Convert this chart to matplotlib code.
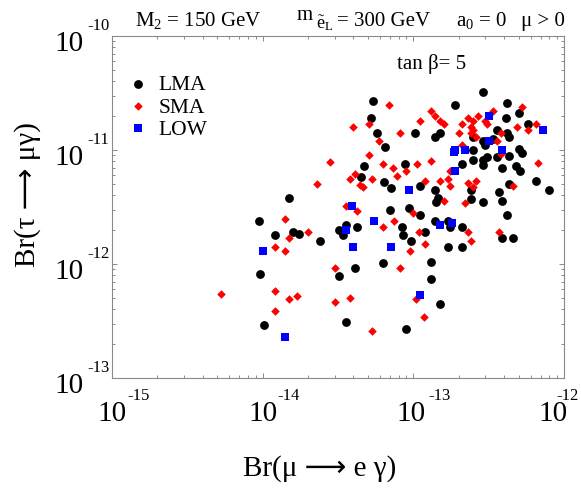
import matplotlib
matplotlib.use("Agg")
import matplotlib.pyplot as plt

plt.rcParams['font.family'] = ['Liberation Serif', 'DejaVu Sans']
plt.rcParams['mathtext.fontset'] = 'custom'
plt.rcParams['mathtext.rm'] = 'Liberation Serif'
plt.rcParams['mathtext.it'] = 'Liberation Serif:italic'

# Br(mu -> e gamma) / Br(tau -> mu gamma)
lma_x = [1.5e-14, 9.5e-15, 1.2e-14, 1.6e-14, 1.75e-14, 2.4e-14, 9.6e-15, 1.02e-14,
         3.6e-14, 3.2e-14, 3.4e-14, 3.2e-14, 3.6e-14, 5.4e-14, 5.2e-14, 5.7e-14,
         1.03e-13, 1.4e-13, 1.5e-13, 6.5e-14, 8.8e-14, 4.7e-14, 4.5e-14, 6.4e-14,
         1.1e-13, 7.1e-14, 1.4e-13, 1.45e-13, 1.42e-13, 2.9e-13, 1.9e-13, 4.2e-13,
         4.1e-13, 5.0e-13, 5.8e-13, 3.6e-13, 4.2e-13, 4.3e-13, 3.4e-13, 2.9e-13,
         2.5e-13, 2.5e-13, 3.0e-13, 5.0e-13, 5.3e-13, 4.3e-13, 3.6e-13, 3.1e-13,
         2.9e-13, 2.5e-13, 2.9e-13, 2.1e-13, 3.9e-13, 4.8e-13, 5.1e-13, 6.5e-13,
         7.9e-13, 2.4e-13, 4.3e-13, 3.7e-13, 3.9e-13, 2.9e-13, 2.4e-13, 7.0e-14,
         9.4e-14, 1.1e-13, 1.4e-13, 1.7e-13, 4.2e-14, 8.4e-14, 8.5e-14, 1.2e-13,
         9.7e-14, 1.7e-13, 6.3e-14, 1.3e-13, 4.1e-14, 1.3e-13, 1.5e-13, 9.0e-14,
         1.75e-13, 2.1e-13, 2.1e-13, 4.2e-13, 3.9e-13, 4.6e-13]
lma_y = [3.8e-12, 2.4e-12, 1.8e-12, 1.9e-12, 1.85e-12, 1.6e-12, 8.1e-13, 2.9e-13,
         2.2e-12, 2.0e-12, 1.8e-12, 7.9e-13, 3.1e-13, 2.7e-11, 1.9e-11, 1.4e-11,
         1.4e-11, 1.3e-11, 1.4e-11, 1.06e-11, 7.6e-12, 7.2e-12, 5.8e-12, 5.2e-12,
         4.8e-12, 4.6e-12, 4.5e-12, 3.8e-12, 3.5e-12, 3.2e-11, 2.5e-11, 2.6e-11,
         1.9e-11, 2.1e-11, 1.7e-11, 1.5e-11, 1.4e-11, 1.3e-11, 1.26e-11, 1.2e-11,
         1.3e-11, 1.0e-11, 1.1e-11, 1.02e-11, 9.4e-12, 8.9e-12, 8.6e-12, 8.6e-12,
         8.1e-12, 8.1e-12, 7.4e-12, 7.5e-12, 7.0e-12, 7.3e-12, 6.5e-12, 5.4e-12,
         4.5e-12, 4.5e-12, 5.0e-12, 4.3e-12, 3.6e-12, 3.5e-12, 3.7e-12, 3.0e-12,
         3.1e-12, 2.7e-12, 2.4e-12, 2.4e-12, 2.1e-12, 2.1e-12, 1.8e-12, 1.9e-12,
         1.6e-12, 1.4e-12, 1.02e-12, 1.05e-12, 9.2e-13, 7.4e-13, 4.5e-13, 2.7e-13,
         2.1e-12, 2.1e-12, 1.4e-12, 2.7e-12, 1.7e-12, 1.7e-12]

sma_x = [2.3e-14, 1.4e-14, 2.0e-14, 1.5e-14, 1.2e-14, 1.4e-14, 3.0e-14, 5.3e-15,
         1.2e-14, 1.5e-14, 1.7e-14, 3.0e-14, 1.2e-14, 3.8e-14, 6.9e-14, 1.3e-13,
         1.4e-13, 1.5e-13, 1.6e-13, 1.1e-13, 5.1e-14, 4.0e-14, 8.2e-14, 5.9e-14,
         5.1e-14, 1.3e-13, 6.3e-14, 1.06e-13, 7.3e-14, 8.9e-14, 7.8e-14, 4.1e-14,
         3.8e-14, 5.3e-14, 2.8e-14, 1.2e-13, 1.5e-13, 1.7e-13, 4.4e-14, 4.6e-14,
         1.6e-13, 5.3e-13, 3.4e-13, 2.3e-13, 2.5e-13, 2.7e-13, 2.4e-13, 2.5e-13,
         2.1e-13, 2.0e-13, 2.4e-13, 2.6e-13, 3.0e-13, 3.1e-13, 4.9e-13, 5.8e-13,
         6.5e-13, 3.8e-13, 3.6e-13, 2.1e-13, 3.8e-13, 6.7e-13, 1.75e-13, 1.75e-13,
         2.3e-13, 2.6e-13, 2.5e-13, 4.6e-13, 2.2e-13, 4.2e-14, 3.6e-14, 1.0e-13,
         7.4e-14, 6.3e-14, 1.09e-13, 1.2e-13, 9.5e-14, 8.2e-14, 1.04e-13, 1.18e-13,
         5.3e-14, 2.3e-13, 2.4e-13, 3.7e-13]
sma_y = [5.0e-12, 2.5e-12, 1.9e-12, 1.7e-12, 1.4e-12, 1.3e-12, 9.3e-13, 5.5e-13,
         5.8e-13, 4.9e-13, 5.2e-13, 4.6e-13, 3.9e-13, 5.0e-13, 2.5e-11, 2.2e-11,
         2.0e-11, 1.8e-11, 1.7e-11, 1.8e-11, 1.7e-11, 1.6e-11, 1.4e-11, 1.2e-11,
         9.1e-12, 8.0e-12, 7.6e-12, 7.6e-12, 7.0e-12, 6.5e-12, 5.9e-12, 6.1e-12,
         5.6e-12, 5.6e-12, 7.8e-12, 5.3e-12, 5.4e-12, 5.6e-12, 4.9e-12, 4.7e-12,
         3.6e-12, 2.4e-11, 2.2e-11, 1.9e-11, 1.8e-11, 2.0e-11, 1.6e-11, 1.5e-11,
         1.7e-11, 1.4e-11, 1.4e-11, 1.3e-11, 1.8e-11, 1.7e-11, 1.6e-11, 1.5e-11,
         1.7e-11, 1.4e-11, 1.2e-11, 1.1e-11, 9.2e-12, 7.7e-12, 6.5e-12, 4.8e-12,
         5.1e-12, 5.3e-12, 4.7e-12, 4.8e-12, 3.4e-12, 2.9e-12, 3.2e-12, 2.8e-12,
         2.4e-12, 2.1e-12, 1.9e-12, 1.5e-12, 1.3e-12, 9.3e-13, 4.9e-13, 3.4e-13,
         2.6e-13, 1.9e-12, 1.6e-12, 1.9e-12]

low_x = [3.2e-13, 7.2e-13, 3.2e-13, 1.9e-13, 1.85e-13, 2.2e-13, 3.9e-13, 1.9e-13,
         9.3e-14, 3.9e-14, 5.5e-14, 3.6e-14, 1.5e-13, 1.8e-13, 4.0e-14, 7.1e-14,
         1.0e-14, 1.1e-13, 1.4e-14]
low_y = [2.0e-11, 1.5e-11, 1.2e-11, 1.0e-11, 9.6e-12, 9.9e-12, 9.9e-12, 6.6e-12,
         4.5e-12, 3.2e-12, 2.4e-12, 2.0e-12, 2.2e-12, 2.3e-12, 1.4e-12, 1.4e-12,
         1.3e-12, 5.4e-13, 2.3e-13]

x_tick_exp = [-15, -14, -13, -12]
y_tick_exp = [-13, -12, -11, -10]

W, H = 581, 489
fig = plt.figure(figsize=(W / 100, H / 100), dpi=100)
ax = fig.add_axes([112 / W, 1 - 379 / H, 452 / W, 342 / H])
ax.set_xscale('log')
ax.set_yscale('log')
ax.set_xlim(1e-15, 1e-12)
ax.set_ylim(1e-13, 1e-10)

ax.scatter(lma_x, lma_y, s=40, marker='o', c='black', linewidths=0, label='LMA', zorder=3)
ax.scatter(sma_x, sma_y, s=19, marker='D', c='red', linewidths=0, label='SMA', zorder=3)
ax.scatter(low_x, low_y, s=30, marker='s', c='blue', linewidths=0, label='LOW', zorder=3)

gray = '#8a8a8a'
for sp in ax.spines.values():
    sp.set_color(gray)
    sp.set_linewidth(0.8)
ax.tick_params(which='both', direction='in', top=True, right=True, color=gray, width=0.7,
               labelbottom=False, labelleft=False)
ax.tick_params(which='major', length=3.5)
ax.tick_params(which='minor', length=2.2)

# tick labels: big "10" with a small raised exponent
x_shift = {-15: (0, 15), -14: (0, 15), -13: (-2, 15), -12: (-11, -8)}
for e in x_tick_exp:
    d10, dsup = x_shift[e]
    ax.annotate('10', xy=(10.0 ** e, 0), xycoords=('data', 'axes fraction'),
                xytext=(d10, -42), textcoords='offset pixels', ha='center', va='baseline', fontsize=21)
    ax.annotate(str(e), xy=(10.0 ** e, 0), xycoords=('data', 'axes fraction'),
                xytext=(dsup, -21), textcoords='offset pixels', ha='left', va='baseline', fontsize=12)
for e in y_tick_exp:
    ax.annotate('10', xy=(0, 10.0 ** e), xycoords=('axes fraction', 'data'),
                xytext=(-28, -14), textcoords='offset pixels', ha='right', va='baseline', fontsize=21)
    ax.annotate(str(e), xy=(0, 10.0 ** e), xycoords=('axes fraction', 'data'),
                xytext=(-25, 7), textcoords='offset pixels', ha='left', va='baseline', fontsize=12)

ax.legend(loc='upper left', bbox_to_anchor=(0.039, 0.888), frameon=False, fontsize=15.5,
          handlelength=0.8, handletextpad=0.55, labelspacing=0.1, borderpad=0,
          borderaxespad=0, scatterpoints=1)

ax.text((397 - 112) / 452, 1 - (69 - 37) / 342, 'tan β= 5', transform=ax.transAxes,
        fontsize=15, ha='left', va='baseline')

top_y = 1 - 26 / H
fig.text(135 / W, top_y, 'M$_2$ = 150 GeV', fontsize=15, ha='left', va='baseline')
fig.text(297 / W, 1 - 20 / H, 'm', fontsize=15, ha='left', va='baseline')
fig.text(316 / W, 1 - 28 / H, r'$\tilde{\mathrm{e}}_\mathrm{L}$', fontsize=13, ha='left', va='baseline')
fig.text(337 / W, top_y, '= 300 GeV', fontsize=15, ha='left', va='baseline')
fig.text(456 / W, top_y, 'a$_0$ = 0', fontsize=15, ha='left', va='baseline')
fig.text(521 / W, top_y, 'μ > 0', fontsize=15, ha='left', va='baseline')

fig.text(320 / W, 1 - 476 / H, 'Br(μ ⟶ e γ)', fontsize=21, ha='center', va='baseline')
fig.text(28 / W, 1 - 195 / H, 'Br(τ ⟶ μγ)', fontsize=21, ha='center', va='center', rotation=90)

fig.savefig('out.png', dpi=100)
